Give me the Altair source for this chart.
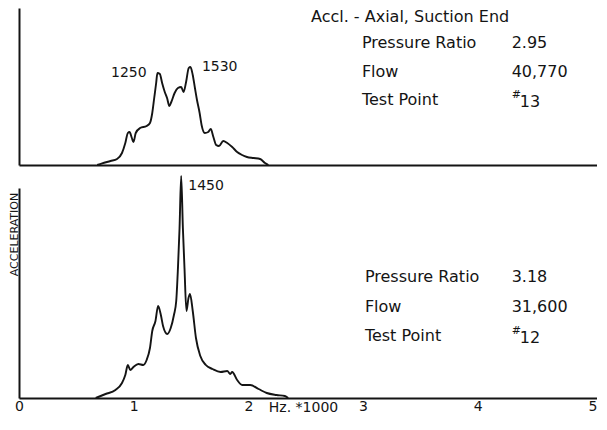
import altair as alt
import pandas as pd

# ---- data ----
top_hz = [0.682, 0.725, 0.798, 0.855, 0.898, 0.927, 0.949, 0.964, 0.984, 0.998, 1.018, 1.056,
          1.113, 1.142, 1.162, 1.179, 1.196, 1.207, 1.228, 1.248, 1.271, 1.291, 1.311, 1.328,
          1.357, 1.386, 1.414, 1.435, 1.457, 1.480, 1.495, 1.515, 1.534, 1.552, 1.575, 1.592,
          1.620, 1.650, 1.672, 1.695, 1.719, 1.744, 1.781, 1.816, 1.859, 1.902, 1.945, 1.988,
          2.046, 2.102, 2.145, 2.175]
top_amp = [0, 1.7, 4, 6, 12, 22, 32, 33, 27, 23, 32, 37,
           39, 42, 52, 67, 82, 92, 91, 82, 73, 67, 59, 63,
           72, 77, 78, 73, 83, 97, 98, 90, 77, 65, 52, 40,
           32, 33, 36, 28, 20, 19, 24, 22, 18, 13, 10, 8,
           7, 6, 2, 0]

bot_hz = [0.669, 0.755, 0.841, 0.898, 0.927, 0.949, 0.970, 0.998, 1.041, 1.084, 1.113, 1.142,
          1.162, 1.190, 1.213, 1.237, 1.256, 1.293, 1.323, 1.351, 1.371, 1.386, 1.400, 1.414,
          1.429, 1.443, 1.460, 1.478, 1.491, 1.515, 1.543, 1.581, 1.629, 1.687, 1.758, 1.816,
          1.842, 1.859, 1.902, 1.945, 2.016, 2.089, 2.160, 2.246, 2.318, 2.347]
bot_amp = [0, 4, 8, 15, 23, 33, 28, 31, 34, 33, 38, 50,
           67, 77, 92, 83, 72, 64, 70, 83, 97, 130, 170, 222,
           170, 130, 87, 100, 104, 87, 60, 42, 33, 29, 26, 27,
           24, 26, 18, 13, 13, 9, 5, 3, 2, 0]

tick_values = [0, 1, 2, 3, 4, 5]

top_info_text = ["Pressure Ratio", "2.95", "Flow", "40,770", "Test Point"]
top_info_x = [2.99, 4.296, 2.99, 4.296, 2.99]
top_info_y = [122, 122, 93, 93, 65]
top_num_text = ["13"]
top_num_x = [4.366]
top_num_y = [63]
top_hash_x = [4.296]
top_hash_y = [70]

bot_info_text = ["Pressure Ratio", "3.18", "Flow", "31,600", "Test Point"]
bot_info_x = [3.016, 4.296, 3.016, 4.296, 3.016]
bot_info_y = [121, 121, 91, 91, 62]
bot_num_text = ["12"]
bot_num_x = [4.366]
bot_num_y = [60]
bot_hash_x = [4.296]
bot_hash_y = [67]

top_title = ["Accl. - Axial, Suction End"]
top_title_x = [2.546]
top_title_y = [148]

top_peak_text = ["1250", "1530"]
top_peak_x = [0.958, 1.750]
top_peak_y = [92, 98]

bot_peak_text = ["1450"]
bot_peak_x = [1.476]
bot_peak_y = [212]

FONT = "DejaVu Sans"
INK = "#141414"
W = 578

x_scale = alt.Scale(domain=[0, 5.04], nice=False, zero=False)


def panel(hz, amp, ymax, height, texts, bottom):
    curve = pd.DataFrame({"hz": hz, "amp": amp})
    y_scale = alt.Scale(domain=[0, ymax], nice=False)
    if bottom:
        x_axis = alt.Axis(values=tick_values, format="d", ticks=False, grid=False,
                          labelFontSize=14, labelFont=FONT, labelColor=INK, labelPadding=1,
                          labelFlush=False, title="Hz. *1000", titleFont=FONT,
                          titleFontSize=14, titleFontWeight="normal", titleColor=INK,
                          titleX=284, titleY=2, titleBaseline="top", minExtent=0)
    else:
        x_axis = alt.Axis(values=tick_values, ticks=False, grid=False, labels=False,
                          title=None, minExtent=0, maxExtent=2)
    y_axis = alt.Axis(ticks=False, labels=False, grid=False, title="ACCELERATION",
                      titleFont=FONT, titleFontSize=11, titleFontWeight="normal",
                      titleColor=INK, titleOpacity=1 if bottom else 0, titlePadding=0,
                      titleY=46, titleAngle=-90, minExtent=0)

    x_enc = alt.X("hz:Q", scale=x_scale, axis=x_axis)
    y_enc = alt.Y("amp:Q", scale=y_scale, axis=y_axis)
    line = alt.Chart(curve).mark_line(color=INK, strokeWidth=1.9, interpolate="monotone").encode(
        x=x_enc, y=y_enc)
    layers = [line]
    for (txt, xs, ys, al, size) in texts:
        df = pd.DataFrame({"t": txt, "hz": xs, "amp": ys})
        layers.append(alt.Chart(df).mark_text(align=al, baseline="middle", font=FONT,
                                              fontSize=size, color=INK).encode(
            x=x_enc, y=y_enc, text="t:N"))
    return alt.layer(*layers).properties(width=W, height=height)


top = panel(top_hz, top_amp, 157, 157, [
    (top_info_text, top_info_x, top_info_y, "left", 16),
    (top_num_text, top_num_x, top_num_y, "left", 16),
    (["#"], top_hash_x, top_hash_y, "left", 11),
    (top_title, top_title_x, top_title_y, "left", 16),
    (top_peak_text, top_peak_x, top_peak_y, "center", 14),
], False)
bot = panel(bot_hz, bot_amp, 210, 210, [
    (bot_info_text, bot_info_x, bot_info_y, "left", 16),
    (bot_num_text, bot_num_x, bot_num_y, "left", 16),
    (["#"], bot_hash_x, bot_hash_y, "left", 11),
    (bot_peak_text, bot_peak_x, bot_peak_y, "left", 14),
], True)

chart = alt.vconcat(top, bot, spacing=23, bounds="flush").properties(
    padding={"left": 0, "top": 0, "right": 0, "bottom": 0},
    background="white",
).configure_view(strokeWidth=0, stroke=None).configure_axis(
    domainColor=INK, domainWidth=2, grid=False
)

chart.save("out.html", embed_options={"renderer": "svg", "actions": False})
